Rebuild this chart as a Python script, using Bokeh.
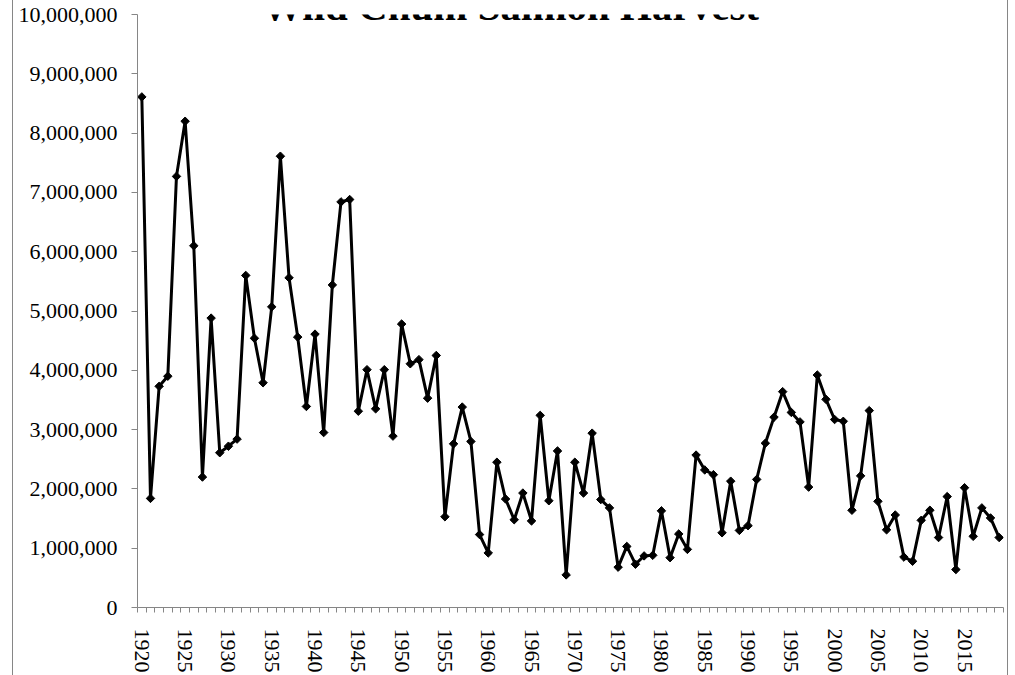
import math
from bokeh.plotting import figure
from bokeh.models import Range1d, FixedTicker, NumeralTickFormatter, Label, ColumnDataSource
from bokeh.embed import file_html
from bokeh.resources import INLINE

title_text = "Wild Chum Salmon Harvest"

years = list(range(1920, 2020))
harvest = [
    8610000, 1840000, 3730000, 3900000, 7270000, 8200000, 6100000, 2200000, 4880000, 2610000,
    2720000, 2840000, 5600000, 4540000, 3790000, 5070000, 7610000, 5560000, 4560000, 3390000,
    4610000, 2950000, 5440000, 6840000, 6880000, 3310000, 4010000, 3350000, 4010000, 2890000,
    4780000, 4110000, 4180000, 3530000, 4250000, 1530000, 2760000, 3380000, 2800000, 1230000,
    920000, 2450000, 1830000, 1480000, 1930000, 1460000, 3240000, 1800000, 2640000, 550000,
    2450000, 1930000, 2940000, 1820000, 1680000, 680000, 1030000, 730000, 870000, 880000,
    1630000, 840000, 1240000, 980000, 2570000, 2320000, 2240000, 1260000, 2130000, 1300000,
    1380000, 2160000, 2770000, 3210000, 3640000, 3290000, 3130000, 2030000, 3920000, 3510000,
    3170000, 3140000, 1640000, 2220000, 3320000, 1790000, 1310000, 1560000, 850000, 780000,
    1470000, 1640000, 1180000, 1870000, 640000, 2020000, 1200000, 1680000, 1510000, 1180000,
]
y_ticks = [0, 1000000, 2000000, 3000000, 4000000, 5000000, 6000000, 7000000, 8000000, 9000000, 10000000]
x_label_years = list(range(1920, 2020, 5))

AXIS_GRAY = "#868686"
FONT = "Liberation Serif"

src = ColumnDataSource(dict(year=years, harvest=harvest))

p = figure(
    width=996, height=675,
    output_backend="svg", toolbar_location=None,
    x_range=Range1d(years[0] - 0.5, years[-1] + 0.5),
    y_range=Range1d(y_ticks[0], y_ticks[-1]),
    min_border_left=124, min_border_right=6,
    min_border_top=14, min_border_bottom=68,
)
p.styles = {
    "margin-left": "12px",
    "border-left": "1px solid " + AXIS_GRAY,
    "border-right": "1px solid " + AXIS_GRAY,
}
p.outline_line_color = None
p.xgrid.visible = False
p.ygrid.visible = False
p.background_fill_color = "white"
p.border_fill_color = "white"

p.line("year", "harvest", source=src, line_color="black", line_width=3)
p.scatter("year", "harvest", source=src, marker="square", angle=math.pi / 4,
          size=6, fill_color="black", line_color="black", line_width=1)

# y axis
ya = p.yaxis[0]
ya.ticker = FixedTicker(ticks=y_ticks)
ya.formatter = NumeralTickFormatter(format="0,0")
ya.axis_line_color = AXIS_GRAY
ya.major_tick_line_color = AXIS_GRAY
ya.major_tick_out = 6
ya.major_tick_in = 0
ya.minor_tick_line_color = None
ya.major_label_text_font = FONT
ya.major_label_text_font_size = "22px"
ya.major_label_text_color = "black"
ya.major_label_standoff = 14

# x axis: labels every 5 years, tick marks at category boundaries
xa = p.xaxis[0]
xa.ticker = FixedTicker(ticks=x_label_years,
                        minor_ticks=[y - 0.5 for y in years] + [years[-1] + 0.5])
xa.axis_line_color = AXIS_GRAY
xa.major_tick_line_color = None
xa.major_tick_out = 0
xa.major_tick_in = 0
xa.minor_tick_line_color = AXIS_GRAY
xa.minor_tick_out = 5
xa.minor_tick_in = 0
xa.major_label_orientation = -math.pi / 2
xa.major_label_text_font = FONT
xa.major_label_text_font_size = "22px"
xa.major_label_text_color = "black"
xa.major_label_standoff = 16

title = Label(x=373, y=602, x_units="screen", y_units="screen", text=title_text,
              text_font=FONT, text_font_size="41px", text_font_style="bold",
              text_align="center", text_baseline="alphabetic", text_color="black")
p.add_layout(title)

open("out.html", "w").write(file_html(p, INLINE))
